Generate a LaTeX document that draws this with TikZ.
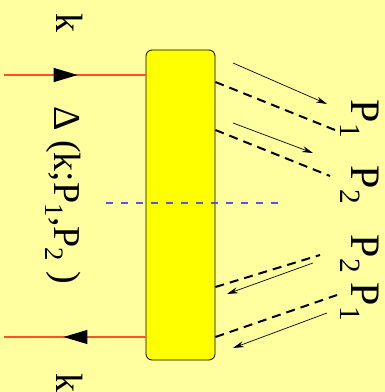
\documentclass[tikz,border=0pt]{standalone}
\usepackage{fontspec}
\setmainfont{Liberation Serif}
\usetikzlibrary{arrows.meta,decorations.markings}
\definecolor{paper}{HTML}{FFFFA0}
\definecolor{blobfill}{HTML}{FFFF00}
\definecolor{fermion}{HTML}{FF5028}
\definecolor{cutblue}{HTML}{5555E0}

\begin{document}
\begin{tikzpicture}[x=1pt,y=-1pt,>=Latex,line join=round]
  \tikzset{
    blob/.style={draw=black,line width=0.8pt,fill=blobfill,rounded corners=6pt,minimum width=69pt,minimum height=310pt,inner sep=0pt},
    quark/.style={draw=fermion,line width=1.3pt,postaction={decorate},
      decoration={markings,mark=at position #1 with {\arrow[black]{Triangle[length=24pt,width=14pt]}}}},
    ghost/.style={black,line width=2pt,dash pattern=on 9pt off 6pt},
    momentum/.style={black,line width=0.7pt,-{Stealth[length=11pt,width=6pt]}},
    cutline/.style={draw=cutblue,line width=1.2pt,dash pattern=on 7pt off 8pt},
    rlabel/.style={rotate=-90,inner sep=0pt,font=\fontsize{42}{42}\selectfont}
  }
  \fill[paper] (0,0) rectangle (385,392);
  \useasboundingbox (0,0) rectangle (385,392);

  % the amplitude
  \node[blob] (amp) at (180.5,205) {};

  % incoming and outgoing k
  \coordinate (kin) at (4,75);
  \coordinate (kout) at (4,337);
  \draw[quark=0.52] (kin) -- (amp.west |- kin);
  \draw[quark=0.58] (amp.west |- kout) -- (kout);
  \node[rlabel,font=\fontsize{38}{38}\selectfont] (ktop) at (70,23) {k};
  \node[rlabel,font=\fontsize{38}{38}\selectfont] (kbot) at (70,383) {k};
  \node[rlabel,font=\fontsize{38}{38}\selectfont] (delta) at (63,195) {Δ (k;P\textsubscript{1},P\textsubscript{2} )};

  % cut
  \coordinate (cutl) at (106,203);
  \coordinate (cutr) at (278,203);
  \draw[cutline] (cutl) -- (cutr);

  % outgoing pair
  \coordinate (a1) at (amp.east |- 0,82);
  \coordinate (a2) at (amp.east |- 0,130);
  \coordinate (b1) at (335,130);
  \coordinate (b2) at (330,176);
  \draw[ghost] (a1) -- (b1);
  \draw[ghost] (a2) -- (b2);
  \coordinate (m1s) at (233,63);
  \coordinate (m1e) at (327,104);
  \coordinate (m2s) at (233,123);
  \coordinate (m2e) at (313,153);
  \draw[momentum] (m1s) -- (m1e);
  \draw[momentum] (m2s) -- (m2e);
  \node[rlabel] (p1top) at (360,119) {P\textsubscript{1}};
  \node[rlabel] (p2top) at (360,185) {P\textsubscript{2}};

  % incoming pair
  \coordinate (c2) at (amp.east |- 0,287);
  \coordinate (c1) at (amp.east |- 0,337);
  \coordinate (d2) at (320,255);
  \coordinate (d1) at (337,295);
  \draw[ghost] (c2) -- (d2);
  \draw[ghost] (c1) -- (d1);
  \coordinate (n2s) at (313,263);
  \coordinate (n2e) at (227,294);
  \coordinate (n1s) at (327,313);
  \coordinate (n1e) at (233,348);
  \draw[momentum] (n2s) -- (n2e);
  \draw[momentum] (n1s) -- (n1e);
  \node[rlabel] (p2bot) at (360,254) {P\textsubscript{2}};
  \node[rlabel] (p1bot) at (360,302) {P\textsubscript{1}};
\end{tikzpicture}
\end{document}
